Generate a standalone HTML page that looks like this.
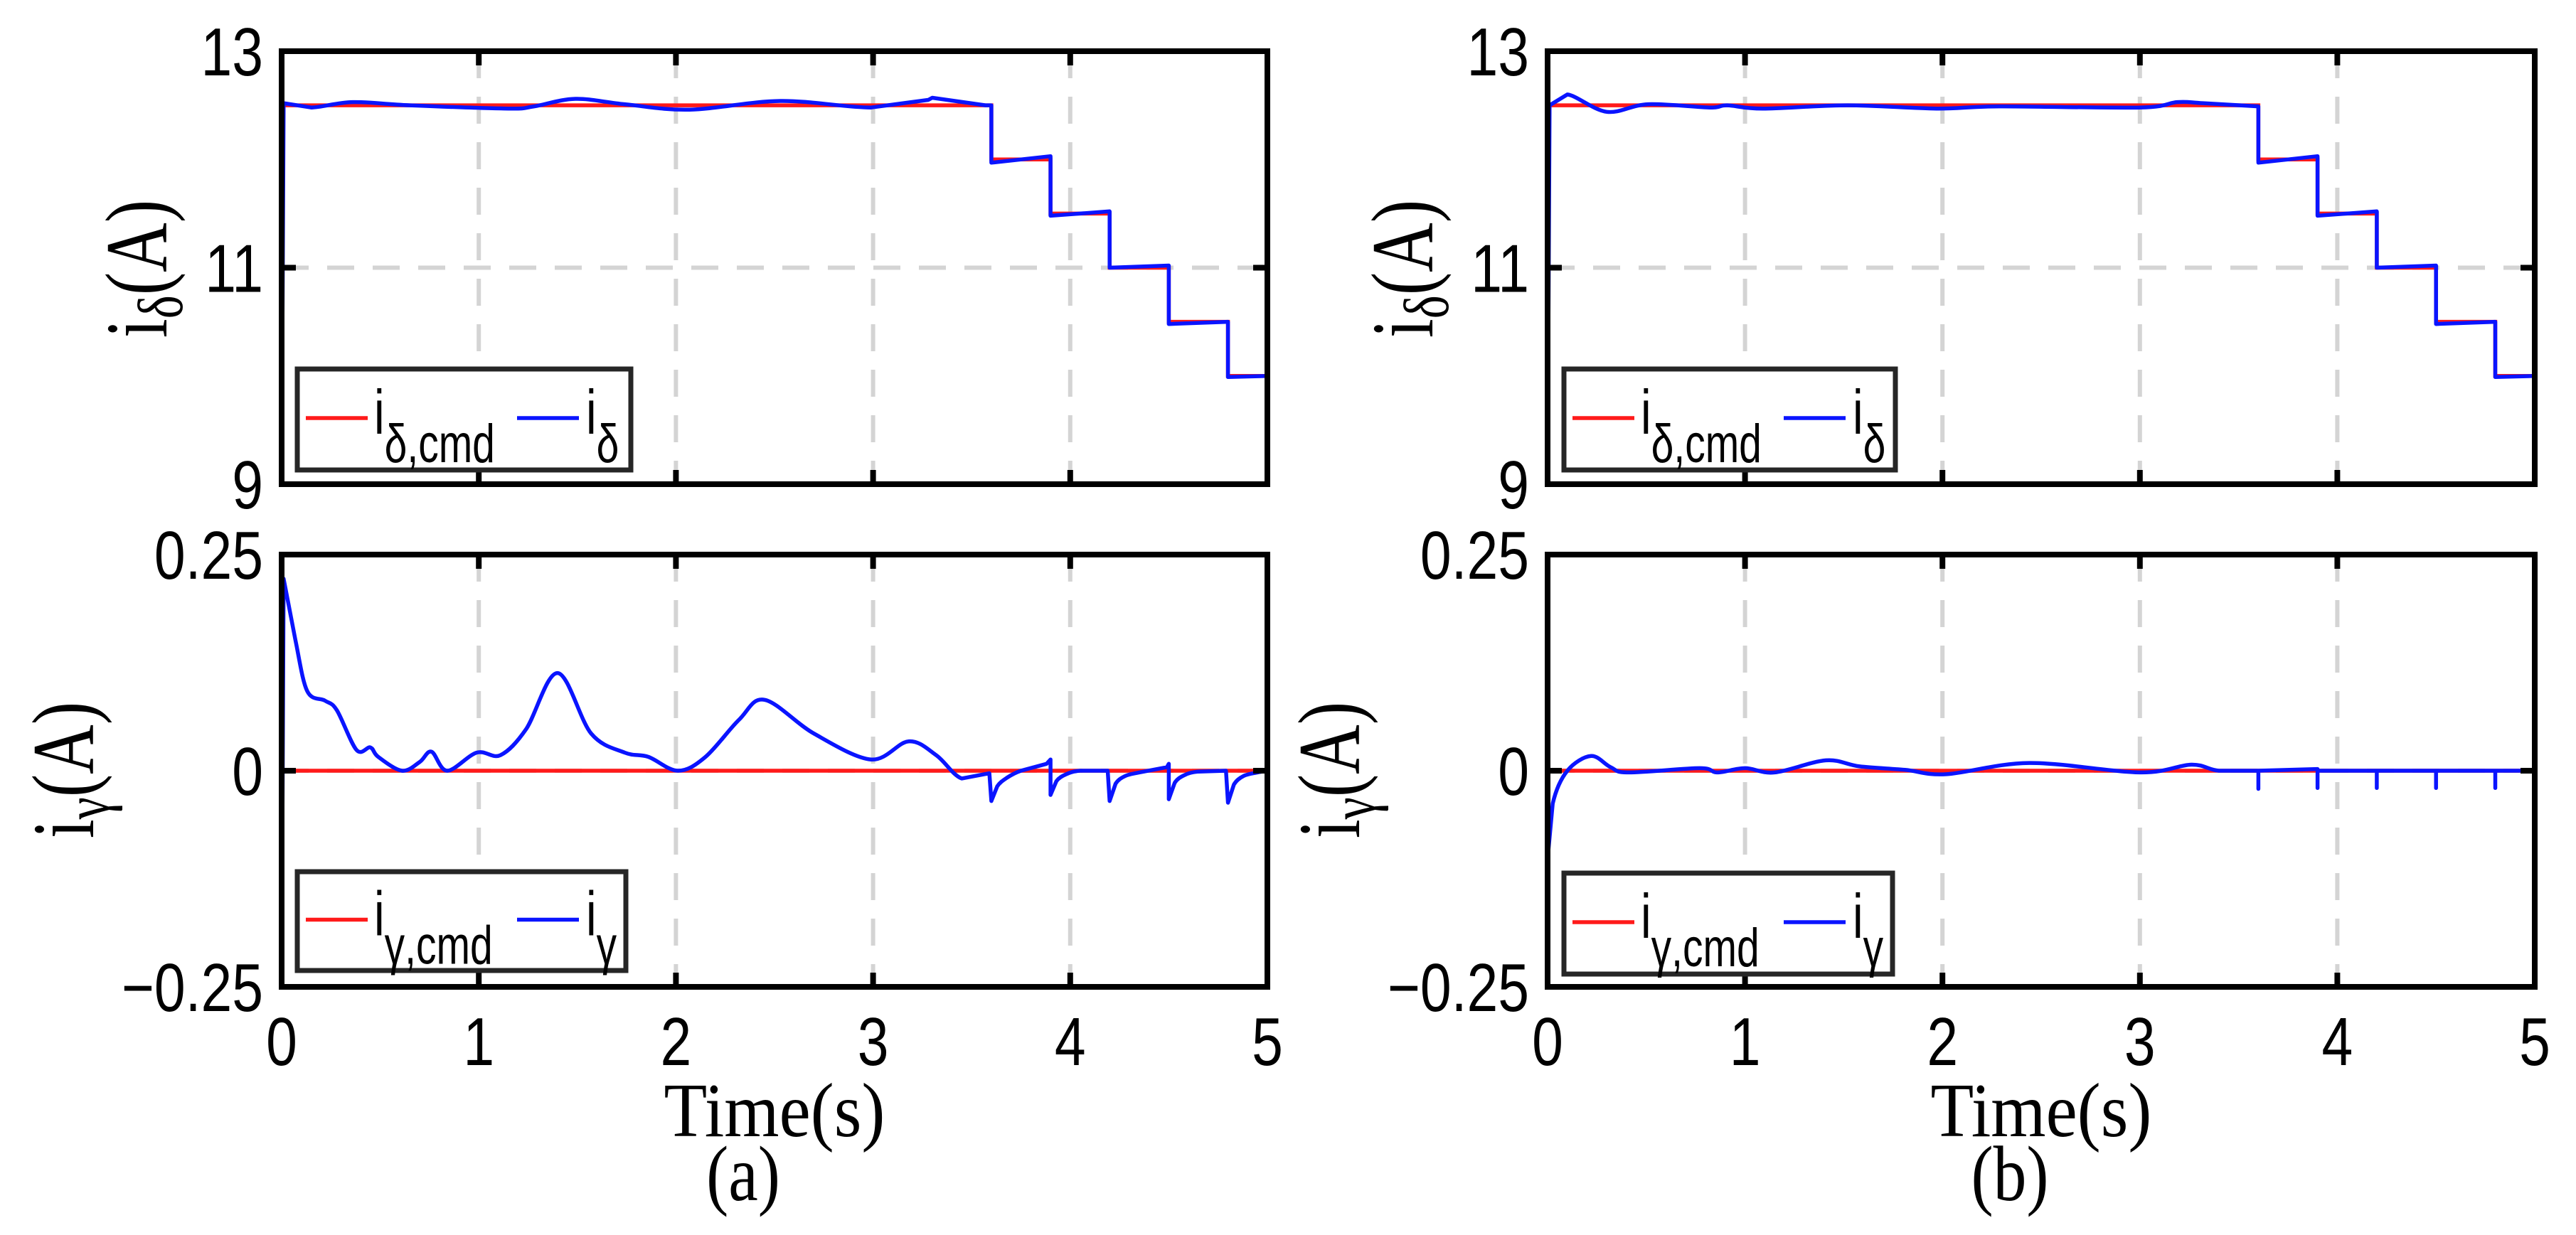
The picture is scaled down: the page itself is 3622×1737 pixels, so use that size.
<!DOCTYPE html>
<html><head><meta charset="utf-8"><style>
html,body{margin:0;padding:0;background:#fff}
svg{display:block}
</style></head><body>
<svg id="fig" width="3622" height="1737" viewBox="0 0 3622 1737" xmlns="http://www.w3.org/2000/svg"></svg>
<script>
// ---- data ----
const xTicks = [0,1,2,3,4,5];
const dTicks = [9,11,13];
const gTicks = [-0.25,0,0.25];
const gTickLabels = ["\u22120.25","0","0.25"];
const dCmdT = [0,3.6,3.6,3.9,3.9,4.2,4.2,4.5,4.5,4.8,4.8,5];
const dCmdV = [12.5,12.5,12,12,11.5,11.5,11,11,10.5,10.5,10,10];
const gCmdT = [0,5];
const gCmdV = [0,0];
// (a) i_delta
const aDT = [0,0.01,0.15,0.36,0.65,1.15,1.28,1.49,1.74,2.07,2.53,2.99,3.28,3.3,3.57,3.6,3.6,3.9,3.9,4.2,4.2,4.5,4.5,4.8,4.8,5];
const aDV = [9,12.52,12.48,12.53,12.5,12.47,12.49,12.56,12.51,12.46,12.54,12.48,12.55,12.57,12.5,12.5,11.97,12.03,11.48,11.52,11.0,11.02,10.48,10.5,9.99,10.0];
// (a) i_gamma
const aGT = [0,0.01,0.07,0.13,0.22,0.28,0.38,0.45,0.49,0.61,0.7,0.76,0.84,0.99,1.11,1.24,1.4,1.57,1.74,1.86,2.01,2.15,2.32,2.45,2.7,2.99,3.18,3.32,3.45,3.59,3.6,3.63,3.68,3.75,3.88,3.9,3.9,3.93,3.98,4.05,4.19,4.2,4.23,4.28,4.35,4.49,4.5,4.5,4.53,4.58,4.65,4.79,4.8,4.83,4.88,4.95,5];
const aGV = [-0.25,0.222,0.151,0.092,0.081,0.07,0.024,0.027,0.016,0,0.01,0.022,0,0.021,0.018,0.048,0.113,0.043,0.021,0.016,0,0.016,0.059,0.082,0.043,0.013,0.034,0.018,-0.009,-0.003,-0.035,-0.018,-0.008,0,0.008,0.013,-0.028,-0.012,-0.004,0,0,-0.035,-0.015,-0.006,-0.002,0.004,0.008,-0.033,-0.014,-0.005,-0.001,0,-0.037,-0.016,-0.006,-0.002,0];
// (b) i_delta
const bDT = [0,0.01,0.1,0.3,0.51,0.82,0.91,1.09,1.52,1.97,2.29,3.0,3.19,3.32,3.6,3.6,3.9,3.9,4.2,4.2,4.5,4.5,4.8,4.8,5];
const bDV = [9,12.5,12.6,12.44,12.51,12.48,12.5,12.47,12.5,12.47,12.49,12.48,12.53,12.52,12.49,11.97,12.03,11.48,11.52,11.0,11.02,10.48,10.5,9.99,10.0];
// (b) i_gamma
const bGT = [0,0.003,0.026,0.1,0.22,0.32,0.41,0.77,0.86,1.0,1.15,1.41,1.58,1.81,2.02,2.44,3.0,3.26,3.4,3.6,3.6,3.6,3.9,3.9,3.9,4.2,4.2,4.2,4.5,4.5,4.5,4.8,4.8,4.8,5];
const bGV = [0.067,-0.095,-0.038,0.0,0.017,0.004,-0.002,0.003,-0.002,0.003,-0.002,0.012,0.005,0.001,-0.004,0.009,-0.002,0.007,0,0,-0.021,0,0.002,-0.02,0,0,-0.02,0,0,-0.02,0,0,-0.02,0,0];

// ---- drawing ----
const NS="http://www.w3.org/2000/svg";
const svg=document.getElementById('fig');
function mk(tag,attrs,parent){const e=document.createElementNS(NS,tag);for(const k in attrs)e.setAttribute(k,attrs[k]);(parent||svg).appendChild(e);return e;}
function stext(parent,x,y,anchor,size,sx,family,html,rot){
  const g=mk('g',{transform:`translate(${x},${y})`+(rot?` rotate(${rot})`:'')+` scale(${sx},1)`},parent);
  const t=mk('text',{x:0,y:0,'text-anchor':anchor,'font-family':family,'font-size':size},g);
  t.innerHTML=html;
  return t;
}
function smoothPath(P){
  let d='M'+P[0][0].toFixed(1)+','+P[0][1].toFixed(1);
  for(let i=0;i<P.length-1;i++){
    const p0=P[Math.max(i-1,0)],p1=P[i],p2=P[i+1],p3=P[Math.min(i+2,P.length-1)];
    const straight=(p2[0]-p1[0])<6||(p1[0]-p0[0])<6&&i>0||(p3[0]-p2[0])<6&&i+2<P.length;
    if(straight||i===0){d+=' L'+p2[0].toFixed(1)+','+p2[1].toFixed(1);continue;}
    const c1x=p1[0]+(p2[0]-p0[0])/6,c1y=p1[1]+(p2[1]-p0[1])/6;
    const c2x=p2[0]-(p3[0]-p1[0])/6,c2y=p2[1]-(p3[1]-p1[1])/6;
    d+=` C${c1x.toFixed(1)},${c1y.toFixed(1)} ${c2x.toFixed(1)},${c2y.toFixed(1)} ${p2[0].toFixed(1)},${p2[1].toFixed(1)}`;
  }
  return d;
}

const SANS='Liberation Sans, sans-serif', SERIF='Liberation Serif, serif';
const panels=[
 {x0:396,x1:1782,y0:72,y1:681,ymin:9,ymax:13,yt:dTicks,ytl:["9","11","13"],cmd:[dCmdT,dCmdV],act:[aDT,aDV],leg:[418,519,887,661],sub:"\u03b4",ylab:[200,378],name:"a-idelta",xl:false},
 {x0:396,x1:1782,y0:780,y1:1388,ymin:-0.25,ymax:0.25,yt:gTicks,ytl:gTickLabels,cmd:[gCmdT,gCmdV],act:[aGT,aGV],leg:[418,1226,880,1365],sub:"\u03b3",ylab:[97,1083],name:"a-igamma",xl:true},
 {x0:2176,x1:3564,y0:72,y1:681,ymin:9,ymax:13,yt:dTicks,ytl:["9","11","13"],cmd:[dCmdT,dCmdV],act:[bDT,bDV],leg:[2199,519,2665,661],sub:"\u03b4",ylab:[1980,378],name:"b-idelta",xl:false},
 {x0:2176,x1:3564,y0:780,y1:1388,ymin:-0.25,ymax:0.25,yt:gTicks,ytl:gTickLabels,cmd:[gCmdT,gCmdV],act:[bGT,bGV],leg:[2199,1228,2661,1370],sub:"\u03b3",ylab:[1877,1083],name:"b-igamma",xl:true}
];

panels.forEach(p=>{
  const g=mk('g',{});
  
  
  const X=t=>p.x0+(t-0)/(5-0)*(p.x1-p.x0);
  const Y=v=>p.y1-(v-p.ymin)/(p.ymax-p.ymin)*(p.y1-p.y0);
  xTicks.forEach(t=>{ if(t>0&&t<5){const l=mk('line',{x1:X(t),x2:X(t),y1:p.y0,y2:p.y1,stroke:'#d4d4d4','stroke-width':6,'stroke-dasharray':'38,26'},g);
    
    }});
  p.yt.forEach(v=>{ if(v>p.ymin&&v<p.ymax){const l=mk('line',{x1:p.x0,x2:p.x1,y1:Y(v),y2:Y(v),stroke:'#d4d4d4','stroke-width':6,'stroke-dasharray':'38,26'},g);
    
    }});
  const c=mk('polyline',{points:p.cmd[0].map((t,i)=>X(t)+','+Y(p.cmd[1][i])).join(' '),fill:'none',stroke:'#ff1a1a','stroke-width':5.5},g);
  
  
  const P=p.act[0].map((t,i)=>[X(t),Y(p.act[1][i])]);
  const a=mk('path',{d:smoothPath(P),fill:'none',stroke:'#0a14ff','stroke-width':5.5,'stroke-linejoin':'round'},g);
  
  
  xTicks.forEach(t=>{
    mk('line',{x1:X(t),x2:X(t),y1:p.y1,y2:p.y1-20,stroke:'#000','stroke-width':8},g);
    mk('line',{x1:X(t),x2:X(t),y1:p.y0,y2:p.y0+20,stroke:'#000','stroke-width':8},g);
    if(p.xl){const tx=stext(g,X(t),1498,'middle',96,0.82,SANS,String(t));
      
      }
  });
  p.yt.forEach((v,i)=>{
    mk('line',{x1:p.x0,x2:p.x0+20,y1:Y(v),y2:Y(v),stroke:'#000','stroke-width':8},g);
    mk('line',{x1:p.x1,x2:p.x1-20,y1:Y(v),y2:Y(v),stroke:'#000','stroke-width':8},g);
    const tx=stext(g,p.x0-26,Y(v)+34,'end',96,0.82,SANS,p.ytl[i]);
    
    
  });
  const fr=mk('rect',{x:p.x0,y:p.y0,width:p.x1-p.x0,height:p.y1-p.y0,fill:'none',stroke:'#000','stroke-width':8},g);
  
  
  const yl=stext(g,p.ylab[0]+34,p.ylab[1],'middle',124,0.78,SERIF,`i<tspan font-size="90" dy="22">${p.sub}</tspan><tspan dy="-22">(A)</tspan>`,-90);
  
  
  const [lx0,ly0,lx1,ly1]=p.leg;
  const lg=mk('g',{},g);
  
  
  mk('rect',{x:lx0,y:ly0,width:lx1-lx0,height:ly1-ly0,fill:'#fff',stroke:'#262626','stroke-width':7},lg);
  const ly=(ly0+ly1)/2-2;
  mk('line',{x1:lx0+12,x2:lx0+99,y1:ly,y2:ly,stroke:'#ff1a1a','stroke-width':5.5},lg);
  const t1=stext(lg,lx0+108,ly+22,'start',88,0.75,SANS,`i<tspan font-size="76" dy="40">${p.sub},cmd</tspan>`);
  
  
  mk('line',{x1:lx0+309,x2:lx0+396,y1:ly,y2:ly,stroke:'#0a14ff','stroke-width':5.5},lg);
  const t2=stext(lg,lx0+406,ly+22,'start',88,0.75,SANS,`i<tspan font-size="76" dy="40">${p.sub}</tspan>`);
  
  
});
[[1089,'a'],[2870,'b']].forEach(([cx,s])=>{
  const t=stext(svg,cx,1598,'middle',108,0.92,SERIF,'Time(s)');
  
  
  const c=stext(svg,cx-44,1688,'middle',110,0.85,SERIF,'('+s+')');
  
  
});
</script>
</body></html>
